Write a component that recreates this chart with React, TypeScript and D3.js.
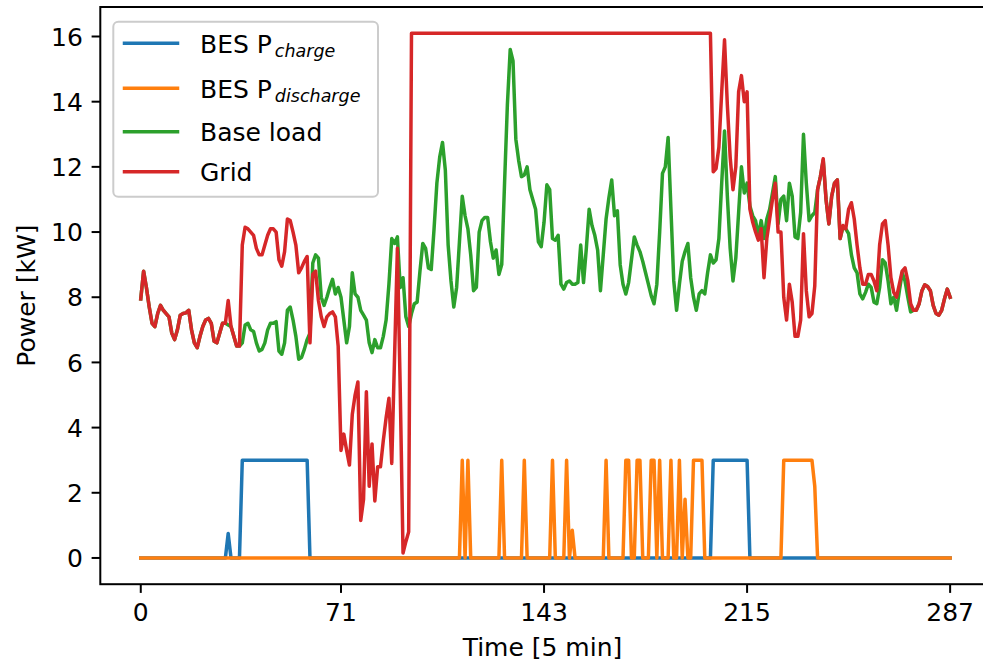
import React from "react";
import * as d3 from "d3";

// ---- data (288 samples, 5-min steps) ----
const charge: number[] = [
  0,0,0,0,0,0,0,0,0,0,0,0,0,0,0,0,0,0,0,0,0,0,0,0,
  0,0,0,0,0,0,0,0.75,0,0,0,0,3,3,3,3,3,3,3,3,3,3,3,3,
  3,3,3,3,3,3,3,3,3,3,3,3,0,0,0,0,0,0,0,0,0,0,0,0,
  0,0,0,0,0,0,0,0,0,0,0,0,0,0,0,0,0,0,0,0,0,0,0,0,
  0,0,0,0,0,0,0,0,0,0,0,0,0,0,0,0,0,0,0,0,0,0,0,0,
  0,0,0,0,0,0,0,0,0,0,0,0,0,0,0,0,0,0,0,0,0,0,0,0,
  0,0,0,0,0,0,0,0,0,0,0,0,0,0,0,0,0,0,0,0,0,0,0,0,
  0,0,0,0,0,0,0,0,0,0,0,0,0,0,0,0,0,0,0,0,0,0,0,0,
  0,0,0,0,0,0,0,0,0,0,0,3,3,3,3,3,3,3,3,3,3,3,3,3,
  0,0,0,0,0,0,0,0,0,0,0,0,0,0,0,0,0,0,0,0,0,0,0,0,
  0,0,0,0,0,0,0,0,0,0,0,0,0,0,0,0,0,0,0,0,0,0,0,0,
  0,0,0,0,0,0,0,0,0,0,0,0,0,0,0,0,0,0,0,0,0,0,0,0,
];

const discharge: number[] = [
  0,0,0,0,0,0,0,0,0,0,0,0,0,0,0,0,0,0,0,0,0,0,0,0,
  0,0,0,0,0,0,0,0,0,0,0,0,0,0,0,0,0,0,0,0,0,0,0,0,
  0,0,0,0,0,0,0,0,0,0,0,0,0,0,0,0,0,0,0,0,0,0,0,0,
  0,0,0,0,0,0,0,0,0,0,0,0,0,0,0,0,0,0,0,0,0,0,0,0,
  0,0,0,0,0,0,0,0,0,0,0,0,0,0,0,0,0,0,3,0,3,0,0,0,
  0,0,0,0,0,0,0,0,3,0,0,0,0,0,0,0,3,0,0,0,0,0,0,0,
  0,0,3,0,0,0,0,3,0,0.85,0,0,0,0,0,0,0,0,0,0,0,3,0,0,
  0,0,0,0,3,3,0,0,3,3,0,0,0,3,3,0,3,0,0,0,3,0,0,3,
  0,1.8,0,0,3,3,3,3,0,0,0,0,0,0,0,0,0,0,0,0,0,0,0,0,
  0,0,0,0,0,0,0,0,0,0,0,0,3,3,3,3,3,3,3,3,3,3,3,2.2,
  0,0,0,0,0,0,0,0,0,0,0,0,0,0,0,0,0,0,0,0,0,0,0,0,
  0,0,0,0,0,0,0,0,0,0,0,0,0,0,0,0,0,0,0,0,0,0,0,0,
];

const baseLoad: number[] = [
  7.95,8.8,8.3,7.7,7.2,7.1,7.5,7.75,7.6,7.5,7.4,6.9,6.7,7.0,7.45,7.5,7.52,7.6,7.0,6.6,6.45,6.8,7.1,7.3,
  7.35,7.2,6.65,6.6,6.9,7.2,7.2,7.15,7.1,6.8,6.5,6.5,6.6,7.15,7.2,7.0,6.95,6.6,6.35,6.4,6.6,7.0,7.2,7.2,
  7.25,6.35,6.25,6.6,7.6,7.7,7.3,6.8,6.1,6.15,6.4,6.7,6.9,9.05,9.3,9.2,8.0,7.75,8.0,8.3,8.55,8.1,8.3,8.0,
  7.3,6.6,7.1,8.75,8.1,8.0,7.6,7.45,7.3,6.6,6.3,6.7,6.45,6.45,6.8,7.3,8.4,9.8,9.65,9.85,8.3,8.6,7.4,7.1,
  7.5,7.8,7.85,8.8,9.65,9.5,8.9,8.85,10.1,11.5,12.3,12.75,11.9,9.6,8.5,7.7,8.3,9.7,11.1,10.5,10.1,9.3,8.2,8.3,
  10.0,10.35,10.45,10.45,9.7,9.2,9.45,8.7,9.0,11.5,13.9,15.6,15.25,12.85,12.2,11.7,11.75,12.0,11.3,11.0,10.7,9.7,9.55,10.3,
  11.45,11.3,9.8,9.75,9.9,8.4,8.25,8.45,8.5,8.4,8.4,8.45,9.6,8.45,9.5,10.7,10.2,9.9,9.45,8.2,9.3,10.4,11.05,11.6,
  10.5,10.65,9.0,8.4,8.1,8.45,9.15,9.85,9.6,9.4,9.1,8.75,8.4,8.05,7.8,8.4,10.0,11.8,12.0,12.9,10.7,8.5,7.6,8.4,
  9.1,9.4,9.65,8.6,8.0,7.6,8.1,8.2,8.1,8.75,9.3,9.05,9.15,9.8,11.5,13.1,11.1,9.5,8.5,9.2,10.6,12.0,11.2,11.5,
  10.8,10.5,10.35,9.9,10.35,9.8,10.4,10.7,11.2,11.7,10.25,11.0,11.1,10.35,11.5,11.1,9.85,9.8,10.6,13.0,11.5,10.35,10.5,10.6,
  11.3,11.7,12.2,11.0,10.25,11.1,11.5,11.6,9.8,10.15,10.1,9.95,9.3,8.9,8.75,8.1,7.95,8.15,8.4,8.3,7.85,7.8,8.3,9.15,
  9.05,8.5,7.8,8.0,7.6,8.2,8.75,8.5,8.0,7.55,7.6,7.6,7.8,8.2,8.38,8.33,8.2,7.75,7.5,7.45,7.6,7.95,8.25,8.0,
];

const grid: number[] = [
  7.95,8.8,8.3,7.7,7.2,7.1,7.5,7.75,7.6,7.5,7.4,6.9,6.7,7.0,7.45,7.5,7.52,7.6,7.0,6.6,6.45,6.8,7.1,7.3,
  7.35,7.2,6.65,6.6,6.9,7.2,7.2,7.9,7.1,6.8,6.5,6.5,9.6,10.15,10.1,10.0,9.9,9.5,9.3,9.3,9.6,9.9,10.1,10.1,
  10.0,9.15,8.95,9.4,10.4,10.35,10.0,9.6,8.75,8.9,9.1,9.25,6.6,8.7,8.8,7.9,7.4,7.1,7.4,7.5,7.55,7.4,6.5,3.3,
  3.8,3.3,2.85,4.4,5.0,5.4,1.15,1.8,5.1,2.2,3.5,1.75,2.8,2.8,3.6,4.3,4.9,2.9,6.2,9.5,5.2,0.15,0.5,0.8,
  16.1,16.1,16.1,16.1,16.1,16.1,16.1,16.1,16.1,16.1,16.1,16.1,16.1,16.1,16.1,16.1,16.1,16.1,16.1,16.1,16.1,16.1,16.1,16.1,
  16.1,16.1,16.1,16.1,16.1,16.1,16.1,16.1,16.1,16.1,16.1,16.1,16.1,16.1,16.1,16.1,16.1,16.1,16.1,16.1,16.1,16.1,16.1,16.1,
  16.1,16.1,16.1,16.1,16.1,16.1,16.1,16.1,16.1,16.1,16.1,16.1,16.1,16.1,16.1,16.1,16.1,16.1,16.1,16.1,16.1,16.1,16.1,16.1,
  16.1,16.1,16.1,16.1,16.1,16.1,16.1,16.1,16.1,16.1,16.1,16.1,16.1,16.1,16.1,16.1,16.1,16.1,16.1,16.1,16.1,16.1,16.1,16.1,
  16.1,16.1,16.1,16.1,16.1,16.1,16.1,16.1,16.1,16.1,16.1,11.85,11.95,12.6,14.3,15.9,13.9,12.3,11.3,12.0,14.3,14.8,14.0,14.3,
  10.7,10.3,10.0,9.75,10.1,8.6,9.8,10.4,11.0,11.5,10.0,10.0,8.0,7.3,8.4,7.85,6.8,6.8,7.3,9.95,8.2,7.4,7.5,8.35,
  11.3,11.7,12.25,11.0,10.25,11.1,11.5,11.6,9.8,10.2,10.1,10.7,10.9,10.4,9.6,8.9,8.4,8.4,8.7,8.7,8.5,8.2,9.6,10.25,
  10.35,9.6,8.6,8.15,8.0,8.4,8.8,8.9,8.5,7.8,7.6,7.6,7.8,8.2,8.38,8.33,8.2,7.75,7.5,7.45,7.6,7.95,8.25,8.0,
];

const xTickValues: number[] = [0, 71, 143, 215, 287];
const yTickValues: number[] = [0, 2, 4, 6, 8, 10, 12, 14, 16];
const seriesNames: string[] = ["charge", "discharge", "base", "grid"];
const legendMain: string[] = ["BES P", "BES P", "Base load", "Grid"];
const legendSub: string[] = ["charge", "discharge", "", ""];
const seriesColors: string[] = ["#1f77b4", "#ff7f0e", "#2ca02c", "#d62728"];

const W = 983;
const H = 666;
const AX_L = 100.3;
const AX_R = 990.6;
const AX_T = 7;
const AX_B = 584.2;
const FONT = "'DejaVu Sans', sans-serif";
const FS = 25;

export default function App() {
  const x = d3.scaleLinear().domain([-14.35, 301.35]).range([AX_L, AX_R]);
  const y = d3.scaleLinear().domain([-0.805, 16.905]).range([AX_B, AX_T]);
  const line = d3
    .line<number>()
    .x((_, i) => x(i))
    .y((d) => y(d));
  const allSeries = [charge, discharge, baseLoad, grid];

  const tickLen = 8.7;
  const pad = 8.7;

  const legX = 113.3;
  const legY = 21.7;
  const legW = 264.7;
  const legH = 175;
  const rowY = [43.3, 88.3, 131.7, 171.7];

  return (
    <div style={{ position: "absolute", left: 0, top: 0, width: W, height: H, background: "#fff" }}>
      <svg width={W} height={H} viewBox={`0 0 ${W} ${H}`} style={{ display: "block" }}>
        <rect x={0} y={0} width={W} height={H} fill="#fff" />
        <defs>
          <clipPath id="plotclip">
            <rect x={AX_L} y={AX_T} width={AX_R - AX_L} height={AX_B - AX_T} />
          </clipPath>
        </defs>
        <g clipPath="url(#plotclip)">
          {allSeries.map((s, k) => (
            <path
              key={seriesNames[k]}
              d={line(s) || ""}
              fill="none"
              stroke={seriesColors[k]}
              strokeWidth={3.5}
              strokeLinejoin="round"
              strokeLinecap="square"
            />
          ))}
        </g>
        {/* spines */}
        <rect
          x={AX_L}
          y={AX_T}
          width={AX_R - AX_L}
          height={AX_B - AX_T}
          fill="none"
          stroke="#000"
          strokeWidth={2}
        />
        {/* x ticks */}
        {xTickValues.map((t) => (
          <g key={"xt" + t}>
            <line x1={x(t)} x2={x(t)} y1={AX_B} y2={AX_B + tickLen} stroke="#000" strokeWidth={2} />
            <text
              x={x(t)}
              y={AX_B + tickLen + pad + 0.76 * FS}
              textAnchor="middle"
              fontFamily={FONT}
              fontSize={FS}
              fill="#000"
            >
              {t}
            </text>
          </g>
        ))}
        {/* y ticks */}
        {yTickValues.map((t) => (
          <g key={"yt" + t}>
            <line x1={AX_L - tickLen} x2={AX_L} y1={y(t)} y2={y(t)} stroke="#000" strokeWidth={2} />
            <text
              x={AX_L - tickLen - pad}
              y={y(t) + 9.2}
              textAnchor="end"
              fontFamily={FONT}
              fontSize={FS}
              fill="#000"
            >
              {t}
            </text>
          </g>
        ))}
        {/* axis labels */}
        <text
          x={(AX_L + AX_R) / 2 - 3}
          y={656}
          textAnchor="middle"
          fontFamily={FONT}
          fontSize={FS}
          fill="#000"
        >
          Time [5 min]
        </text>
        <text
          transform={`translate(35.3, ${(AX_T + AX_B) / 2}) rotate(-90)`}
          textAnchor="middle"
          fontFamily={FONT}
          fontSize={FS}
          fill="#000"
        >
          Power [kW]
        </text>
        {/* legend */}
        <rect
          x={legX}
          y={legY}
          width={legW}
          height={legH}
          rx={5}
          ry={5}
          fill="#fff"
          fillOpacity={0.8}
          stroke="#cccccc"
          strokeWidth={2}
        />
        {legendMain.map((m, k) => (
          <g key={"lg" + k}>
            <line
              x1={124.5}
              x2={177.5}
              y1={rowY[k]}
              y2={rowY[k]}
              stroke={seriesColors[k]}
              strokeWidth={3.5}
              strokeLinecap="square"
            />
            <text x={200} y={rowY[k] + 9.4} fontFamily={FONT} fontSize={FS} fill="#000">
              {m}
              {legendSub[k] ? (
                <tspan dx={3} dy={4.5} fontStyle="italic" fontSize={17.5}>
                  {legendSub[k]}
                </tspan>
              ) : null}
            </text>
          </g>
        ))}
      </svg>
    </div>
  );
}
